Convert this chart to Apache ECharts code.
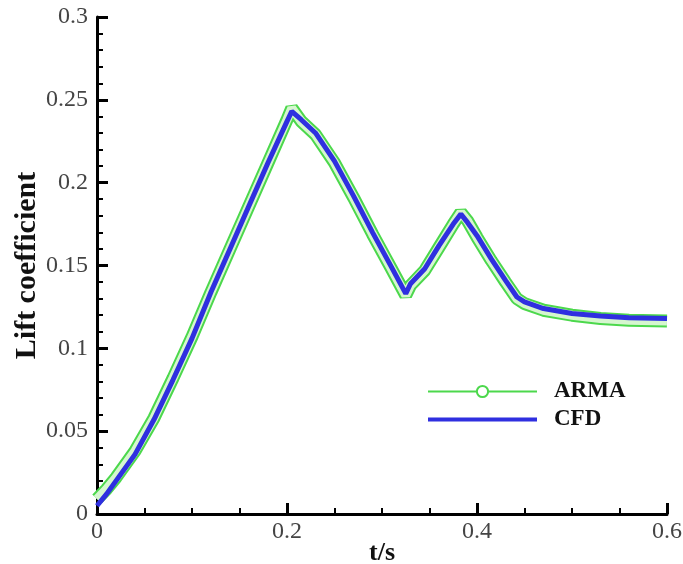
<!DOCTYPE html>
<html>
<head>
<meta charset="utf-8">
<script src="https://cdn.jsdelivr.net/npm/echarts@6/dist/echarts.min.js"></script>
<style>
  html, body { margin: 0; padding: 0; background: #fff; }
  #chart { width: 683px; height: 564px; }
</style>
</head>
<body>
<div id="chart"></div>
<script>
// time samples (s)
var time = [0, 0.01, 0.02, 0.04, 0.06, 0.08, 0.1, 0.12, 0.14, 0.16, 0.18, 0.2, 0.205,
  0.215, 0.23, 0.25, 0.27, 0.29, 0.31, 0.325, 0.33, 0.345, 0.36, 0.375, 0.383,
  0.39, 0.4, 0.415, 0.43, 0.442, 0.45, 0.47, 0.5, 0.53, 0.56, 0.6]
// lift coefficient, CFD
var cfd = [0.005, 0.012, 0.02, 0.036, 0.057, 0.081, 0.106, 0.134, 0.160, 0.186, 0.212, 0.237, 0.243,
  0.238, 0.230, 0.213, 0.192, 0.170, 0.149, 0.133, 0.139, 0.148, 0.162, 0.175, 0.181,
  0.176, 0.168, 0.154, 0.141, 0.131, 0.128, 0.124, 0.121, 0.1195, 0.1185, 0.118]
// lift coefficient, ARMA
var arma = [0.009, 0.015, 0.022, 0.038, 0.058, 0.082, 0.107, 0.134, 0.160, 0.186, 0.212, 0.238, 0.245,
  0.237, 0.229, 0.212, 0.191, 0.169, 0.148, 0.132, 0.138, 0.147, 0.161, 0.175, 0.182,
  0.177, 0.167, 0.153, 0.140, 0.130, 0.127, 0.123, 0.120, 0.118, 0.117, 0.1165]

var xTicks = ['0', '0.2', '0.4', '0.6']

function pairs(ys) {
  return time.map(function (t, i) { return [t, ys[i]] })
}

var chart = echarts.init(document.getElementById('chart'))
var serif = 'Liberation Serif'
var green = '#4cd84c'
var blue = '#2f2fe0'

chart.setOption({
  animation: false,
  grid: { left: 97, right: 16, top: 17, bottom: 50, containLabel: false, outerBoundsMode: 'none' },
  legend: {
    left: 421,
    top: 375,
    orient: 'vertical',
    itemWidth: 109,
    itemHeight: 14,
    itemGap: 5,
    textStyle: { fontFamily: serif, fontWeight: 'bold', fontSize: 23, color: '#111', padding: [0, 0, 0, 12] },
    data: [
      { name: 'ARMA', lineStyle: { width: 2, color: green },
        itemStyle: { color: green } },
      { name: 'CFD', lineStyle: { width: 4, color: blue },
        itemStyle: { opacity: 0 } }
    ]
  },
  xAxis: {
    type: 'value',
    min: 0,
    max: 0.6,
    interval: 0.2,
    name: 't/s',
    nameLocation: 'middle',
    nameGap: 26,
    nameMoveOverlap: false,
    nameTextStyle: { fontFamily: serif, fontWeight: 'bold', fontSize: 26, color: '#111' },
    axisLine: { lineStyle: { color: '#000', width: 3 } },
    axisTick: { inside: true, length: 11, lineStyle: { color: '#000', width: 3 } },
    minorTick: { show: true, splitNumber: 4, length: 6, lineStyle: { color: '#000', width: 2 } },
    splitLine: { show: false },
    axisLabel: {
      fontFamily: serif, fontSize: 24, color: '#444', margin: 6,
      formatter: function (v) {
        var k = Math.round(v / 0.2)
        return xTicks[k] !== undefined ? xTicks[k] : ''
      }
    }
  },
  yAxis: {
    type: 'value',
    min: 0,
    max: 0.3,
    interval: 0.05,
    name: 'Lift coefficient',
    nameLocation: 'middle',
    nameGap: 55,
    nameMoveOverlap: false,
    nameRotate: 90,
    nameTextStyle: { fontFamily: serif, fontWeight: 'bold', fontSize: 30, color: '#111' },
    axisLine: { show: true, lineStyle: { color: '#000', width: 3 } },
    axisTick: { show: true, inside: true, length: 11, lineStyle: { color: '#000', width: 3 } },
    minorTick: { show: true, splitNumber: 5, length: 6, lineStyle: { color: '#000', width: 2 } },
    splitLine: { show: false },
    axisLabel: {
      fontFamily: serif, fontSize: 24, color: '#444', margin: 9,
      formatter: function (v) { return v === 0 ? '0' : String(+v.toFixed(2)) }
    }
  },
  series: [
    {
      name: 'ARMA',
      type: 'line',
      data: pairs(arma),
      symbol: 'emptyCircle',
      showSymbol: false,
      lineStyle: { color: green, width: 13 },
      itemStyle: { color: green },
      z: 2
    },
    {
      name: 'ARMA-inner',
      type: 'line',
      data: pairs(arma),
      showSymbol: false,
      lineStyle: { color: '#d6f6cf', width: 9 },
      z: 3
    },
    {
      name: 'CFD',
      type: 'line',
      data: pairs(cfd),
      showSymbol: false,
      lineStyle: { color: blue, width: 5 },
      itemStyle: { color: blue },
      z: 4
    }
  ]
})
</script>
</body>
</html>
